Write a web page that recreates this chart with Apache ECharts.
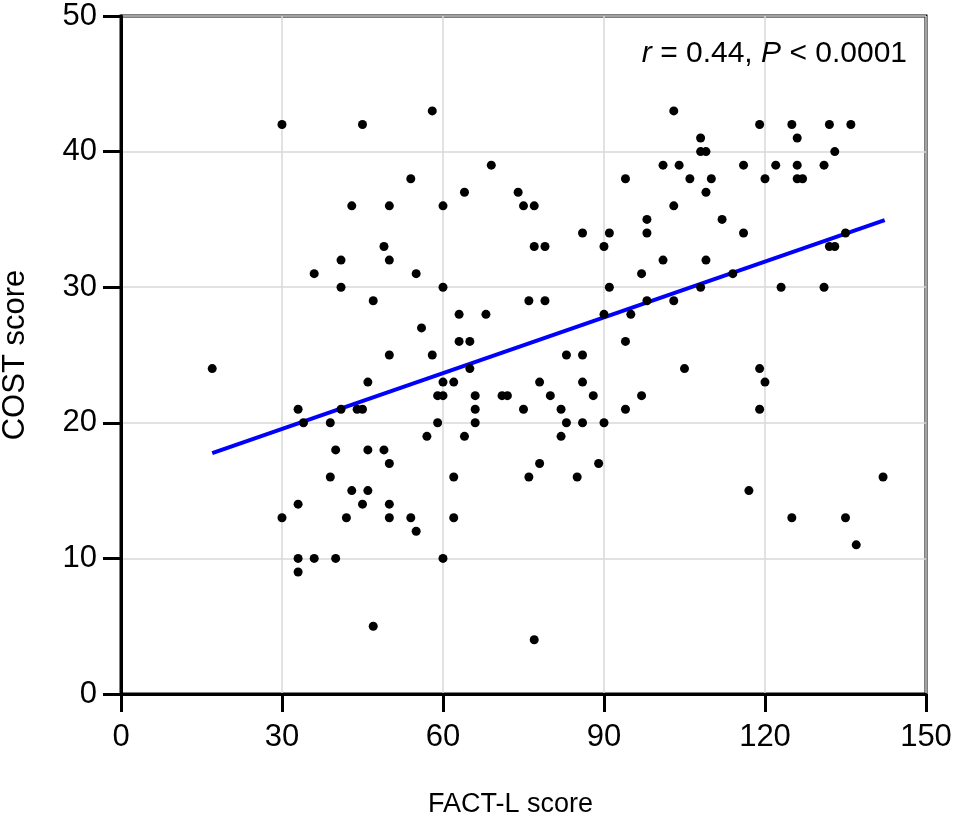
<!DOCTYPE html>
<html>
<head>
<meta charset="utf-8">
<script src="https://cdn.jsdelivr.net/npm/echarts@6.0.0/dist/echarts.min.js"></script>
<style>
  html, body { margin: 0; padding: 0; background: #fff; }
  #chart { width: 957px; height: 819px; }
</style>
</head>
<body>
<div id="chart"></div>
<script>
// FACT-L (x) and COST (y) score per patient
const factL = [
  30, 45, 43, 50, 49, 41, 50, 36, 41, 47, 50,
  17, 46, 33, 34, 39, 41, 44, 45, 40, 46, 49, 50, 39, 43, 46, 33, 45, 50, 30, 42, 50, 33, 36, 40, 33, 47,
  58, 69, 54, 94, 64, 74, 60, 75, 77, 86, 91, 77, 79, 90, 55, 97, 60, 91, 76, 79, 63, 68, 90, 95, 56, 63, 65, 94, 58, 83, 86, 65,
  60, 62, 78, 86, 59, 60, 66, 71, 72, 80, 88, 97, 66, 75, 82, 94, 59, 66, 83, 86, 90, 57, 64, 82, 78, 89, 62, 76, 85, 54, 62, 55, 60, 77,
  103, 119, 125, 108, 108, 109, 101, 104, 116, 122, 106, 110, 120, 109, 103, 98, 112, 98, 116, 101, 109, 114, 108, 123, 98, 103, 105, 119,
  120, 119, 117, 125,
  132, 136, 126, 133, 126, 131, 126, 127, 135, 132, 133, 131,
  142, 135, 137
];
const cost = [
  42, 42, 36, 36, 33, 32, 32, 31, 30, 29, 25,
  24, 23, 21, 20, 20, 21, 21, 21, 18, 18, 18, 17, 16, 15, 15, 14, 14, 14, 13, 13, 13, 10, 10, 10, 9, 5,
  43, 39, 38, 38, 37, 37, 36, 36, 36, 34, 34, 33, 33, 33, 31, 31, 30, 30, 29, 29, 28, 28, 28, 28, 27, 26, 26, 26, 25, 25, 25, 24,
  23, 23, 23, 23, 22, 22, 22, 22, 22, 22, 22, 22, 21, 21, 21, 21, 20, 20, 20, 20, 20, 19, 19, 19, 17, 17, 16, 16, 16, 13, 13, 12, 10, 4,
  43, 42, 42, 41, 40, 40, 39, 39, 39, 39, 38, 38, 38, 37, 36, 35, 35, 34, 34, 32, 32, 31, 30, 30, 29, 29, 24, 24,
  23, 21, 15, 13,
  42, 42, 41, 40, 39, 39, 38, 38, 34, 33, 33, 30,
  16, 13, 11
];

// regression line end points
const fitX = [17, 142.3];
const fitY = [17.76, 34.94];

const xTicks = [0, 30, 60, 90, 120, 150];
const yTicks = [0, 10, 20, 30, 40, 50];

const xTitle = "FACT-L score";
const yTitle = "COST score";
const statText = "{i|r} = 0.44, {i|P} < 0.0001";

const FONT = "'Liberation Sans', Arial, sans-serif";

const chart = echarts.init(document.getElementById("chart"), null, { renderer: "canvas" });

const axisCommon = {
  axisLine: { show: true, lineStyle: { color: "#000", width: 3 } },
  axisTick: { show: true, inside: false, length: 18, lineStyle: { color: "#000", width: 3 } },
  splitLine: { show: true, lineStyle: { color: "#d9d9d9", width: 1.5 } },
  nameLocation: "middle",
};

chart.setOption({
  animation: false,
  backgroundColor: "#fff",
  title: {
    text: statText,
    right: 45,
    top: 34,
    textStyle: {
      fontFamily: FONT, fontSize: 30, fontWeight: "normal", color: "#000",
      rich: { i: { fontFamily: FONT, fontSize: 30, fontStyle: "italic", color: "#000" } },
    },
  },
  grid: {
    left: 121, top: 16, width: 805, height: 678,
    outerBoundsMode: "none",
    containLabel: false,
    show: true, borderColor: "#000", borderWidth: 3,
  },
  xAxis: Object.assign({}, axisCommon, {
    type: "value",
    min: xTicks[0],
    max: xTicks[xTicks.length - 1],
    interval: xTicks[1] - xTicks[0],
    name: xTitle,
    nameGap: 97,
    nameTextStyle: { fontFamily: FONT, fontSize: 27, color: "#000", padding: [0, 26, 0, 0] },
    axisLabel: { fontFamily: FONT, fontSize: 31, color: "#000", margin: 28 },
  }),
  yAxis: Object.assign({}, axisCommon, {
    type: "value",
    min: yTicks[0],
    max: yTicks[yTicks.length - 1],
    interval: yTicks[1] - yTicks[0],
    name: yTitle,
    nameGap: 90,
    nameRotate: 90,
    nameTextStyle: { fontFamily: FONT, fontSize: 31, color: "#000" },
    axisLabel: { fontFamily: FONT, fontSize: 31, color: "#000", margin: 24 },
  }),
  series: [
    {
      type: "line",
      data: fitX.map((x, i) => [x, fitY[i]]),
      showSymbol: false,
      lineStyle: { color: "#0000ff", width: 4 },
      z: 2,
      silent: true,
    },
    {
      type: "scatter",
      data: factL.map((x, i) => [x, cost[i]]),
      symbol: "circle",
      symbolSize: 9,
      itemStyle: { color: "#000", opacity: 1 },
      z: 3,
    },
  ],
});
</script>
</body>
</html>
